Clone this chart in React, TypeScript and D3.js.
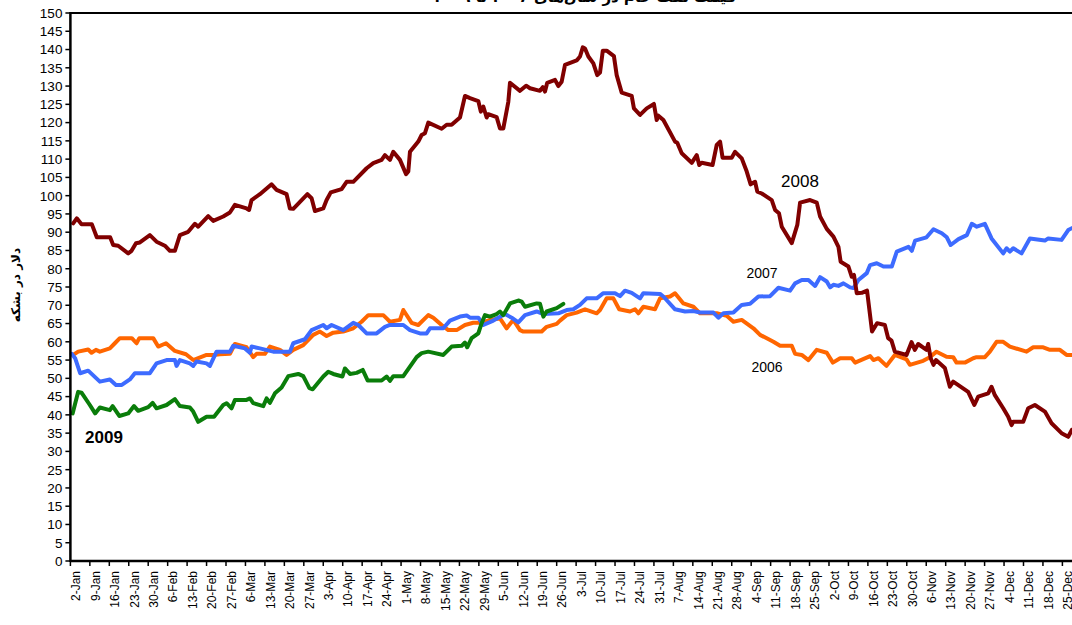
import React from "react";
import * as d3 from "d3";

// x = day of year (1 = 1 Jan), y = price in dollars per barrel
const oil2006: [number, number][] = [
  [1, 56.4], [2.8, 57.3], [6.4, 57.9], [7.6, 57.0], [9.2, 57.8], [10.6, 57.3], [14.2, 58.2], [16, 59.6],
  [17.8, 61.0], [22.1, 61.0], [23.8, 59.6], [24.8, 61.0], [29.8, 61.0], [31.6, 58.7], [34.4, 59.6],
  [37.6, 57.5], [41.6, 56.6], [44.2, 55.0], [49, 56.4], [51.4, 56.4], [53.8, 56.6], [57.4, 56.7],
  [59.2, 59.4], [63.4, 58.5], [65.8, 55.8], [67, 56.7], [70, 56.7], [71.8, 58.7], [75.4, 57.8],
  [77.8, 56.4], [80.2, 57.8], [83.8, 59.1], [87.4, 61.9], [89.8, 62.8], [92.2, 61.6], [94.6, 62.5],
  [98.2, 62.8], [101.8, 63.7], [104.8, 65.5], [107.2, 67.3], [112.6, 67.3], [113.8, 66.4], [115, 65.5],
  [118.6, 66.0], [119.8, 68.7], [122.8, 65.2], [125.2, 64.6], [128.8, 67.3], [130.6, 66.6], [133.6, 64.6],
  [136, 63.2], [139, 63.2], [142, 64.6], [145, 65.2], [148, 65.2], [151, 66.0], [154.6, 66.4], [157, 63.7],
  [159.4, 66.0], [161.8, 63.2], [163, 62.8], [169.6, 62.8], [171.4, 64.1], [175, 64.9], [176.2, 65.8],
  [178.6, 67.3], [182.2, 68.0], [185.2, 68.9], [189.4, 67.8], [190.6, 68.7], [193, 71.9], [195.4, 71.9],
  [197.5, 68.9], [201.4, 68.3], [203.2, 68.9], [204.4, 67.8], [206.2, 69.6], [210.4, 68.9], [212.2, 71.9],
  [215.8, 72.4], [217.6, 73.3], [220.6, 70.5], [224.2, 69.6], [226.6, 67.8], [232.6, 67.8], [236.2, 67.1],
  [238.6, 65.5], [241.6, 66.0], [245.8, 63.7], [248.2, 61.9], [253, 60.0], [255.4, 58.9], [259.6, 58.9],
  [260.8, 56.7], [263.2, 56.4], [265.6, 55.0], [268.6, 57.8], [272.2, 57.0], [274.4, 54.3], [277, 55.5],
  [281.2, 55.5], [282.4, 54.3], [287.8, 56.1], [289, 55.0], [290.8, 55.5], [293.7, 53.4], [296.7, 56.4],
  [300.9, 55.2], [302.1, 53.7], [306.9, 54.8], [309.3, 55.8], [311.7, 57.3], [315.3, 55.9], [317.7, 55.8],
  [318.9, 54.3], [321.9, 54.3], [324.9, 55.5], [326.1, 55.8], [329.1, 55.8], [330.9, 57.3], [333.3, 60.0],
  [335.7, 60.0], [338.1, 58.7], [344.1, 57.3], [346.5, 58.5], [350.1, 58.5], [352.5, 57.8], [356.1, 57.8],
  [358.5, 56.4], [360.4, 56.4],
];

const oil2007: [number, number][] = [
  [0.5, 56.7], [1.7, 55.5], [3.5, 51.4], [6.4, 52.1], [10.6, 49.1], [14.2, 49.7], [16.4, 48.2], [18.5, 48.2],
  [21.4, 49.7], [23.2, 51.4], [28.6, 51.4], [31, 54.1], [34.6, 55.0], [37.6, 55.0], [38.2, 53.4], [39.4, 55.0],
  [43, 54.1], [44.2, 53.4], [45.4, 54.6], [49, 54.1], [50.2, 53.4], [52.6, 57.3], [57.4, 57.3], [58.6, 58.9],
  [62.8, 58.2], [64.6, 57.0], [65.2, 58.7], [68.2, 58.2], [73, 57.3], [79, 57.3], [80.2, 59.6], [84.4, 60.7],
  [86.8, 63.2], [91, 64.6], [92.2, 63.7], [94, 64.6], [98.2, 63.2], [101.8, 65.2], [103.6, 64.6],
  [106.6, 62.3], [110.2, 62.3], [113.2, 64.1], [115, 64.6], [119.8, 64.6], [122.2, 63.2], [125.8, 62.3],
  [128.2, 62.3], [129.4, 63.7], [134.2, 63.7], [136.6, 65.8], [140.2, 66.9], [142.6, 67.2], [143.8, 66.6],
  [146.8, 66.6], [148.6, 64.6], [152.2, 65.8], [156.4, 67.6], [158.8, 66.6], [161.2, 65.3], [163.6, 67.3],
  [167.8, 68.3], [170.2, 67.6], [175.6, 67.8], [178.6, 68.7], [181, 68.9], [183.4, 70.1], [185.8, 71.9],
  [189.4, 71.9], [191.8, 73.3], [196, 73.3], [197.8, 72.5], [199.6, 74.0], [202, 73.4], [205, 71.9],
  [206.2, 73.3], [212.2, 73.1], [213.4, 72.4], [217.6, 68.9], [221.2, 68.3], [224.2, 68.4], [226.6, 68.0],
  [231.4, 68.0], [233.2, 66.6], [235, 67.8], [238.6, 68.0], [241.6, 70.1], [244.6, 70.4], [247.6, 72.4],
  [251.8, 72.5], [254.8, 74.8], [259, 74.0], [260.8, 76.0], [263.2, 76.9], [265.6, 76.9], [268, 75.3],
  [269.8, 77.7], [272.2, 76.5], [273.4, 74.9], [274.6, 75.6], [276.4, 75.3], [278.2, 76.0], [280.6, 74.9],
  [281.8, 74.7], [283.6, 76.9], [286.6, 78.8], [287.8, 81.0], [290.2, 81.5], [292.6, 80.6], [295.6, 80.6],
  [297.4, 84.7], [301.6, 86.0], [302.8, 84.9], [304, 87.7], [308.1, 88.6], [310.6, 90.8], [313.6, 89.7],
  [315.4, 88.6], [316.8, 86.5], [319.6, 88.1], [322.6, 89.2], [324.4, 92.3], [326.2, 91.5], [329.1, 92.3],
  [331.5, 88.3], [335.7, 84.2], [336.9, 85.6], [338.1, 84.7], [339.3, 85.6], [342.3, 84.2], [345.3, 88.3],
  [350.7, 87.7], [351.9, 88.3], [356.7, 87.9], [359.1, 90.6], [360.4, 91.1],
];

const oil2008: [number, number][] = [
  [1, 92.4], [2.3, 93.8], [4, 92.2], [7.7, 92.2], [9.5, 88.6], [14.3, 88.6], [15.4, 86.5], [17.2, 86.3],
  [20.8, 84.2], [22, 84.9], [23.6, 87.0], [25, 87.2], [28.6, 89.2], [31, 87.4], [34, 86.3], [35.8, 84.9],
  [37.6, 84.9], [39.4, 89.2], [42.4, 90.1], [44.8, 92.3], [46, 91.5], [49.6, 94.4], [51.4, 93.1], [55, 94.3],
  [57.4, 95.4], [59.2, 97.5], [63.4, 96.5], [64.3, 96.1], [65.2, 98.8], [68.2, 100.4], [72.4, 103.1],
  [74.2, 101.6], [77.8, 100.4], [79, 96.5], [80.2, 96.4], [85.3, 100.4], [86.8, 99.3], [88, 95.8],
  [91, 96.5], [92.2, 98.8], [93.7, 100.9], [97.6, 101.8], [99.4, 103.8], [101.8, 103.8], [106.6, 107.5],
  [109, 108.9], [112, 109.8], [113.2, 111.1], [115, 109.8], [116.2, 112.0], [118.6, 109.8], [120.8, 105.9],
  [121.6, 106.6], [122.2, 112.0], [125.2, 114.8], [126.4, 116.6], [127.6, 117.1], [128.8, 120.0],
  [133.6, 118.3], [135.4, 119.4], [137.2, 119.4], [140.2, 121.4], [142, 127.3], [143.8, 126.7],
  [146.8, 125.9], [147.7, 123.0], [148.6, 124.4], [149.8, 121.4], [150.4, 122.3], [153.4, 121.5],
  [154.6, 118.4], [155.8, 118.4], [157.6, 125.7], [158.2, 130.9], [161.8, 128.7], [164, 130.1],
  [165.4, 129.4], [169, 128.7], [170, 129.7], [170.8, 128.5], [171.6, 130.9], [174.4, 131.7], [175.6, 130.0],
  [176.8, 131.2], [178, 135.8], [182.2, 137.0], [183.4, 138.1], [184.4, 140.6], [185.2, 140.3], [186.4, 138.1],
  [188.2, 136.2], [189.6, 133.0], [190.6, 133.7], [191.6, 139.7], [193, 139.7], [195.6, 138.2], [196.6, 133.0],
  [198.4, 128.2], [202, 127.3], [202.8, 123.9], [205, 122.1], [207.4, 123.9], [210, 125.1], [211, 120.7],
  [211.6, 121.9], [213.4, 120.7], [217.6, 114.8], [218.4, 114.5], [220, 111.6], [223.6, 109.0],
  [225.4, 111.1], [226.3, 108.4], [227.2, 109.0], [231.1, 108.4], [232.6, 113.9], [233.8, 114.8],
  [234.7, 110.4], [238, 110.4], [239.2, 112.0], [241.6, 110.2], [243.4, 106.6], [244.8, 103.1],
  [246.4, 103.8], [247.2, 101.1], [248.8, 100.6], [252.4, 98.8], [253.6, 96.1], [255, 95.2], [256, 91.5],
  [259.6, 87.0], [261.6, 92.0], [262.6, 98.1], [266.2, 98.8], [268.6, 98.1], [269.8, 94.3], [272.2, 90.9],
  [274.6, 88.8], [276.4, 86.0], [277.2, 81.9], [280, 80.6], [281.2, 77.8], [282, 78.3], [283, 73.3],
  [284.8, 73.4], [286.7, 74.0], [288.5, 62.8], [290.3, 65.1], [293.1, 64.6], [294.3, 61.0], [295.5, 60.3],
  [296.7, 57.3], [300.9, 56.4], [302.7, 59.9], [303.9, 57.8], [305.1, 59.4], [308.1, 57.8], [308.7, 59.4],
  [309.6, 55.5], [310.6, 53.7], [311.5, 55.0], [314.7, 52.8], [316.5, 47.7], [317.7, 49.1], [323.1, 46.3],
  [325.3, 42.7], [326.7, 45.0], [330.3, 45.9], [331.5, 47.7], [332.7, 45.4], [335.7, 41.8], [337.5, 39.5],
  [338.7, 37.2], [339.3, 38.1], [342.9, 38.1], [344.7, 41.8], [347.1, 42.7], [350.7, 40.9], [353.1, 37.7],
  [356.7, 35.0], [359.1, 34.0], [360.4, 35.9],
];

const oil2009: [number, number][] = [
  [0.8, 40.4], [2.8, 46.3], [4, 46.1], [7, 42.7], [8.9, 40.4], [10.6, 42.0], [14.2, 41.3], [15.2, 42.4],
  [17.6, 39.7], [20.8, 40.4], [22.9, 42.4], [24.4, 41.1], [28, 42.1], [29.6, 43.3], [31, 41.8], [34.6, 42.7],
  [37.6, 44.3], [39.4, 42.4], [43, 42.0], [44.2, 40.9], [46, 38.1], [49, 39.5], [51.7, 39.5], [55, 42.7],
  [56.2, 43.2], [58, 41.8], [59.2, 44.1], [63.4, 44.1], [64.6, 44.5], [65.8, 43.2], [69.4, 42.4],
  [70.6, 44.5], [71.8, 43.3], [73.6, 45.9], [76, 47.5], [78.4, 50.6], [82, 51.2], [83.8, 50.6], [86, 47.3],
  [87.2, 47.0], [91, 50.5], [92.8, 51.8], [94.6, 51.2], [97.9, 50.5], [98.8, 52.7], [100.6, 51.2],
  [103, 51.5], [105.2, 52.3], [107, 49.4], [112, 49.4], [113.8, 50.5], [115, 49.3], [116.2, 50.6],
  [119.8, 50.6], [122.2, 53.2], [124.6, 55.8], [126.4, 56.9], [128.8, 57.3], [134.2, 56.4], [137.2, 58.7],
  [140.8, 58.9], [142, 59.8], [142.8, 58.5], [144.4, 61.0], [146.8, 62.3], [148, 65.1], [149.2, 67.3],
  [151, 66.9], [153.4, 67.6], [154.6, 68.3], [155.8, 67.3], [158.2, 70.5], [161.2, 71.3], [162.4, 71.0],
  [163.6, 69.6], [167.8, 70.5], [169, 70.4], [170.2, 66.9], [171.4, 68.3], [175, 69.2], [177.4, 70.4],
];

const weekLabels = [
  "2-Jan", "9-Jan", "16-Jan", "23-Jan", "30-Jan", "6-Feb", "13-Feb", "20-Feb", "27-Feb", "6-Mar",
  "13-Mar", "20-Mar", "27-Mar", "3-Apr", "10-Apr", "17-Apr", "24-Apr", "1-May", "8-May", "15-May",
  "22-May", "29-May", "5-Jun", "12-Jun", "19-Jun", "26-Jun", "3-Jul", "10-Jul", "17-Jul", "24-Jul",
  "31-Jul", "7-Aug", "14-Aug", "21-Aug", "28-Aug", "4-Sep", "11-Sep", "18-Sep", "25-Sep", "2-Oct",
  "9-Oct", "16-Oct", "23-Oct", "30-Oct", "6-Nov", "13-Nov", "20-Nov", "27-Nov", "4-Dec", "11-Dec",
  "18-Dec", "25-Dec",
];

const yTicks = d3.range(0, 151, 5);

const series = [
  { name: "2006", data: oil2006, color: "#ff6600" },
  { name: "2007", data: oil2007, color: "#3d6bff" },
  { name: "2008", data: oil2008, color: "#800000" },
  { name: "2009", data: oil2009, color: "#0a7d0a" },
];

const App = () => {
  const W = 1072;
  const H = 625;
  const left = 70.4;
  const top = 13;
  const bottom = 561;
  const pxPerDay = 2.7787;

  const x = d3.scaleLinear().domain([0, 365]).range([left, left + 365 * pxPerDay]);
  const y = d3.scaleLinear().domain([0, 150]).range([bottom, top]);

  const line = d3
    .line<[number, number]>()
    .x((d) => x(d[0]))
    .y((d) => y(d[1]));

  const font = "'Liberation Sans', Arial, sans-serif";

  return (
    <svg
      width={W}
      height={H}
      style={{ position: "absolute", left: 0, top: 0, background: "#fff" }}
      fontFamily={font}
    >
      <rect width={W} height={H} fill="#fff" />

      {/* title, mostly cut off at the top */}
      <text
        x={585}
        y={2}
        textAnchor="middle"
        fontFamily="'DejaVu Sans', sans-serif"
        fontWeight="bold"
        fontSize={15}
        direction="rtl"
      >
        قیمت نفت خام در سال‌های ۲۰۰۶ تا ۲۰۰۹
      </text>

      {/* y-axis title */}
      <text
        transform={`translate(16,285) rotate(-90)`}
        textAnchor="middle"
        dy="0.35em"
        fontFamily="'DejaVu Sans', sans-serif"
        fontWeight="bold"
        fontSize={12}
      >
        دلار در بشکه
      </text>

      {/* plot frame */}
      <line x1={left} x2={W + 20} y1={top} y2={top} stroke="#000" strokeWidth={2} />

      {/* y axis */}
      {yTicks.map((t) => (
        <g key={t}>
          <line x1={left - 5} x2={left} y1={y(t)} y2={y(t)} stroke="#000" strokeWidth={1.5} />
          <text x={left - 8} y={y(t)} dy="0.36em" textAnchor="end" fontSize={13.5}>
            {t}
          </text>
        </g>
      ))}

      {/* x axis ticks and labels */}
      {d3.range(0, 366, 7).map((d) => (
        <line key={d} x1={x(d)} x2={x(d)} y1={bottom} y2={bottom + 5} stroke="#000" strokeWidth={1.5} />
      ))}
      {weekLabels.map((lab, i) => (
        <text
          key={lab}
          transform={`translate(${x(2 + 7 * i)},${bottom + 10}) rotate(-90)`}
          textAnchor="end"
          dy="0.35em"
          fontSize={12}
        >
          {lab}
        </text>
      ))}

      {/* series */}
      {series.map((s) => (
        <path
          key={s.name}
          d={line(s.data) || ""}
          fill="none"
          stroke={s.color}
          strokeWidth={4}
          strokeLinejoin="round"
          strokeLinecap="round"
        />
      ))}

      <line x1={left} x2={left} y1={top - 1} y2={bottom + 1} stroke="#000" strokeWidth={2.5} />
      <line x1={left} x2={W + 20} y1={bottom} y2={bottom} stroke="#000" strokeWidth={2.5} />

      {/* series labels */}
      <text x={800} y={187} textAnchor="middle" fontSize={17}>2008</text>
      <text x={762} y={278} textAnchor="middle" fontSize={14}>2007</text>
      <text x={767} y={372} textAnchor="middle" fontSize={14}>2006</text>
      <text x={104} y={443} textAnchor="middle" fontSize={17} fontWeight="bold">2009</text>
    </svg>
  );
};

export default App;
